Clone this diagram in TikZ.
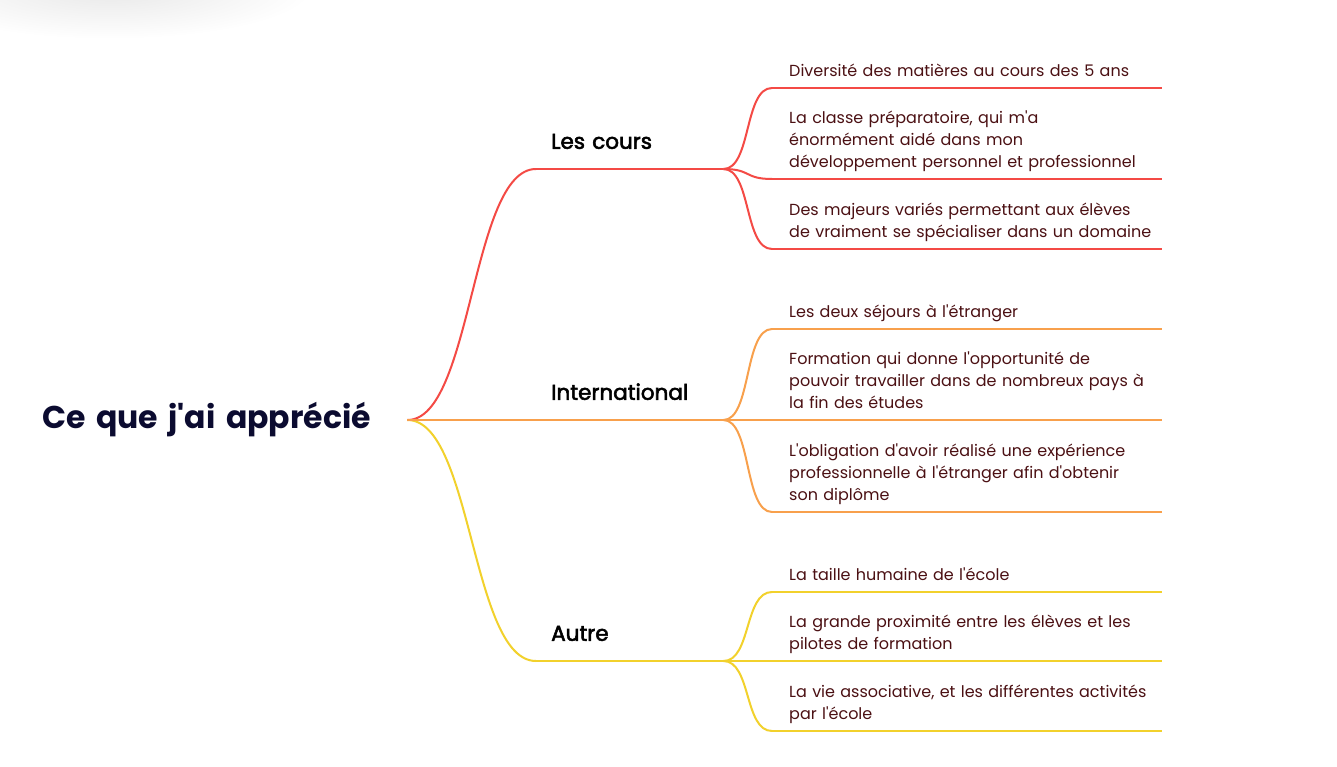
\documentclass[tikz,border=0pt]{standalone}
\usepackage{fontspec}
\setmainfont{Poppins}
\newfontfamily\topicfont[FakeBold=2.5]{Poppins}
\newcommand\apos{\textquotesingle}
\usetikzlibrary{fadings}

\definecolor{cRed}{HTML}{F44A45}
\definecolor{cOrange}{HTML}{F8A04C}
\definecolor{cYellow}{HTML}{F2D12C}
\definecolor{leafText}{HTML}{4B1013}
\definecolor{rootText}{HTML}{0B0B30}

\tikzfading[name=corner, inner color=transparent!0, outer color=transparent!100]

\begin{document}
\begin{tikzpicture}[x=1pt, y=-1pt,
    rootnode/.style={anchor=west, inner xsep=20pt, inner ysep=0pt, text width=345pt,
      align=left, text=rootText, font=\fontsize{31.5}{38}\selectfont\bfseries},
    topic/.style={anchor=south west, inner xsep=15pt, inner ysep=11.9pt, text width=157pt,
      align=left, font=\topicfont\fontsize{21.5}{27}\selectfont, execute at end node=\strut},
    leaf/.style={anchor=south west, inner xsep=0pt, inner ysep=4.8pt, text width=373pt,
      align=left, text=leafText, font=\fontsize{16}{22}\selectfont,
      execute at begin node={\hyphenpenalty=10000}, execute at end node=\strut},
    link/.style={line width=2pt, to path={.. controls +(#1,0) and +(-#1,0) .. (\tikztotarget)}}]
        \useasboundingbox (0,0) rectangle (1337,767);
        \fill[white] (0,0) rectangle (1337,767);
        \fill[black!9, path fading=corner] (110,-12) ellipse (200 and 50);

        \node[rootnode] (root) at (22,420) {Ce que j\apos ai apprécié};

        \node[topic] (cours) at (536,169) {Les cours};
        \node[topic] (inter) at (536,420) {International};
        \node[topic] (autre) at (536,661) {Autre};

        \node[leaf] (cours1) at (789,88) {Diversité des matières au cours des 5 ans};
        \node[leaf] (cours2) at (789,179) {La classe préparatoire, qui m\apos a\\ énormément aidé dans mon\\ développement personnel et professionnel};
        \node[leaf] (cours3) at (789,249) {Des majeurs variés permettant aux élèves\\ de vraiment se spécialiser dans un domaine};

        \node[leaf] (inter1) at (789,329) {Les deux séjours à l\apos étranger};
        \node[leaf] (inter2) at (789,420) {Formation qui donne l\apos opportunité de\\ pouvoir travailler dans de nombreux pays à\\ la fin des études};
        \node[leaf] (inter3) at (789,512) {L\apos obligation d\apos avoir réalisé une expérience\\ professionnelle à l\apos étranger afin d\apos obtenir\\ son diplôme};

        \node[leaf] (autre1) at (789,592) {La taille humaine de l\apos école};
        \node[leaf] (autre2) at (789,661) {La grande proximité entre les élèves et les\\ pilotes de formation};
        \node[leaf] (autre3) at (789,731) {La vie associative, et les différentes activités\\ par l\apos école};

        \draw[link=65, cRed] (root.east) to (cours.south west);
        \draw[link=65, cYellow] (root.east) to (autre.south west);
        \draw[link=65, cOrange] (root.east) to (inter.south west);

        \foreach \t/\c in {cours/cRed, inter/cOrange, autre/cYellow} {
          \draw[line width=2pt, \c] (\t.south west) -- (\t.south east);
          \foreach \i in {1,2,3} {
            \draw[link=28, \c] (\t.south east) to ([xshift=-17pt]\t\i.south west);
            \draw[line width=2pt, \c] ([xshift=-17pt]\t\i.south west) -- (\t\i.south east);
          };
        };
\end{tikzpicture}
\end{document}
